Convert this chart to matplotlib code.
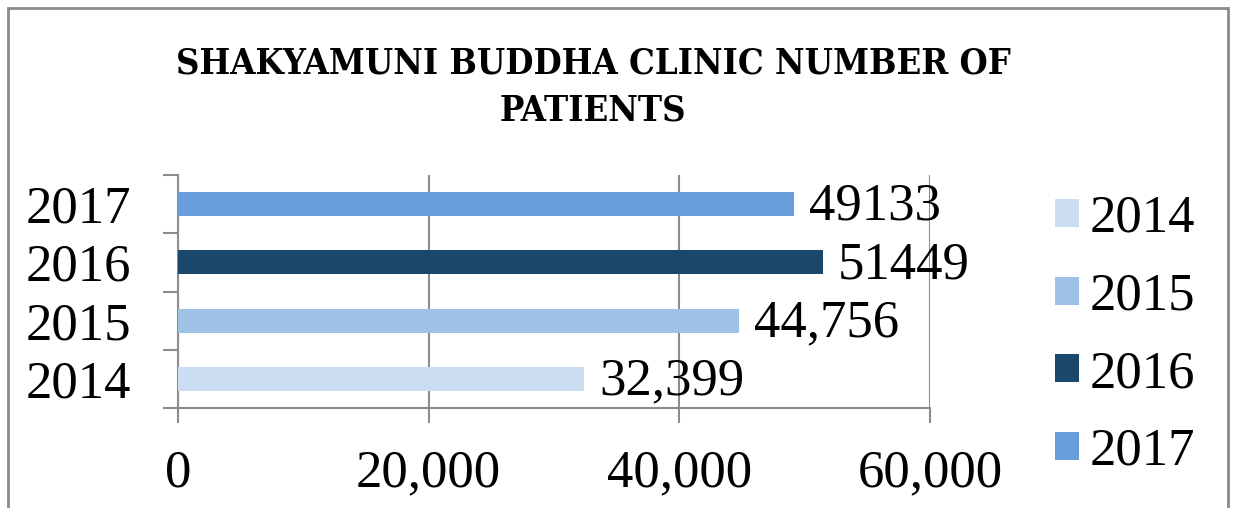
import matplotlib.pyplot as plt
from matplotlib.patches import Rectangle

# data
years = ['2014', '2015', '2016', '2017']
patients = [32399, 44756, 51449, 49133]
value_labels = ['32,399', '44,756', '51449', '49133']
bar_colors = ['#CCDDF2', '#9DC2E6', '#1B476C', '#679EDB']
xticks = [0, 20000, 40000, 60000]
xtick_labels = ['0', '20,000', '40,000', '60,000']

serif = ['Liberation Serif', 'DejaVu Serif']
fs = 38

fig = plt.figure(figsize=(12.36, 5.08), dpi=100)
ax = fig.add_axes([178/1236, 1 - 408/508, (930 - 178)/1236, (408 - 175)/508])

ypos = range(len(years))
for i, yr in enumerate(years):
    ax.barh(i, patients[i], height=0.41, color=bar_colors[i], label=yr, zorder=3)
    ax.annotate(value_labels[i], (patients[i], i), xytext=(11, -2),
                textcoords='offset points', va='center', ha='left',
                fontsize=fs, family=serif, zorder=4)

ax.set_xlim(0, 60000)
ax.set_ylim(-0.5, 3.5)
ax.set_xticks(xticks)
ax.set_xticklabels(xtick_labels, fontsize=fs, family=serif)
ax.set_yticks(list(ypos))
ax.set_yticklabels(years, fontsize=fs, family=serif)
ax.set_yticks([-0.5, 0.5, 1.5, 2.5, 3.5], minor=True)

gray = '#8C8C8C'
ax.grid(axis='x', color=gray, linewidth=1.5, zorder=0)
ax.tick_params(axis='x', length=11, width=1.5, color=gray, pad=19)
ax.tick_params(axis='y', which='major', length=0, pad=34)
ax.tick_params(axis='y', which='minor', length=11, width=1.5, color=gray)
for side in ['top', 'right']:
    ax.spines[side].set_visible(False)
for side in ['left', 'bottom']:
    ax.spines[side].set_color(gray)
    ax.spines[side].set_linewidth(1.5)

fig.text(593/1236, 1 - 87/508, 'SHAKYAMUNI BUDDHA CLINIC NUMBER OF\nPATIENTS',
         ha='center', va='center', fontsize=26, fontweight='bold',
         family='DejaVu Serif', fontstretch='condensed', linespacing=1.5)

leg = fig.legend(loc='upper left', bbox_to_anchor=(1055/1236, 1 - 195/508),
                 frameon=False, prop={'family': serif, 'size': fs},
                 handlelength=0.45, handleheight=0.45, handletextpad=0.2,
                 labelspacing=0.56, borderaxespad=0, borderpad=0)

fig.patches.append(Rectangle((8/1236, -0.02), (1228 - 8)/1236, 1 - 8/508 + 0.02,
                             transform=fig.transFigure, fill=False,
                             edgecolor='#8A8A8A', linewidth=2))

fig.savefig('out.png', dpi=100)
